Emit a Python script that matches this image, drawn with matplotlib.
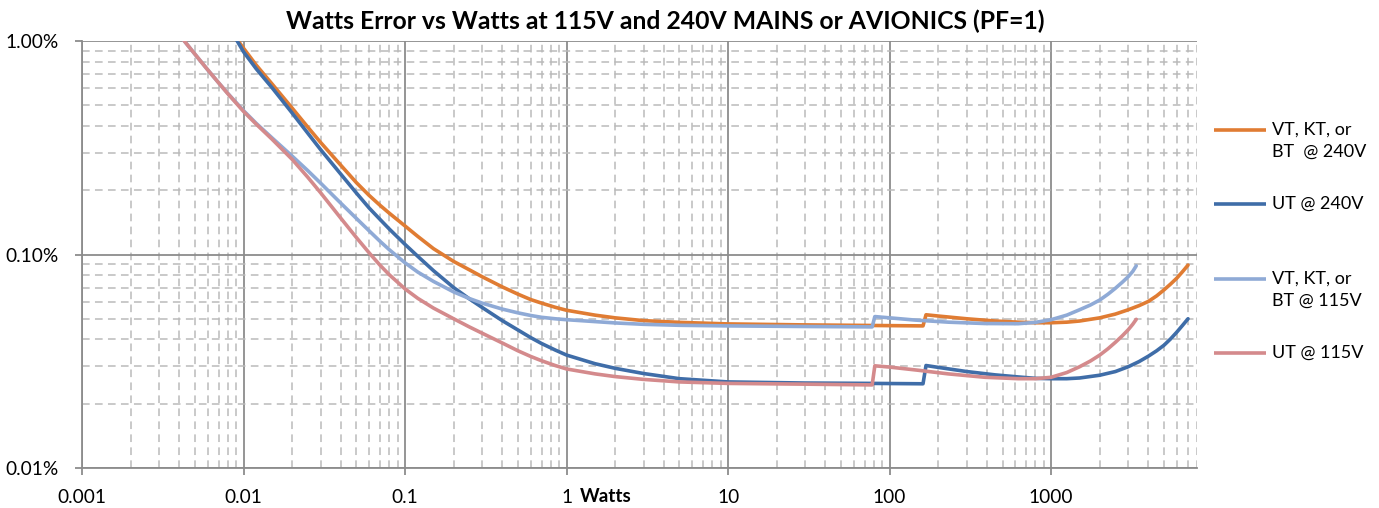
import matplotlib
matplotlib.use("Agg")
import matplotlib.pyplot as plt
from matplotlib.lines import Line2D
from matplotlib.ticker import LogLocator, FixedLocator, FuncFormatter, NullFormatter

# Watts error (%) vs load (W) for the four meter configurations
w_240 = [0.009, 0.01, 0.012, 0.015, 0.02, 0.025, 0.03, 0.04, 0.05, 0.06, 0.07, 0.08, 0.1,
         0.12, 0.15, 0.2, 0.25, 0.3, 0.4, 0.5, 0.6, 0.7, 0.85, 1, 1.5, 2, 3, 5, 10, 30, 80,
         161, 168, 200, 300, 450, 625, 800, 1000, 1250, 1500, 2000, 2500, 3000, 3500, 4000,
         4500, 5000, 5500, 6000, 6500, 7040]
err_vt240 = [1.03, 0.925, 0.77, 0.63, 0.485, 0.395, 0.335, 0.262, 0.217, 0.189, 0.170, 0.156,
             0.136, 0.1215, 0.1065, 0.0928, 0.0848, 0.0787, 0.0705, 0.0652, 0.0615, 0.0592,
             0.0566, 0.0548, 0.0520, 0.0505, 0.0490, 0.0481, 0.0473, 0.0468, 0.0465, 0.0463,
             0.0522, 0.0515, 0.0500, 0.0488, 0.0482, 0.0479, 0.0479, 0.0482, 0.0488, 0.0505,
             0.0526, 0.0551, 0.0576, 0.0603, 0.0640, 0.0683, 0.0728, 0.0775, 0.0830, 0.0892]
err_ut240 = [1.02, 0.89, 0.74, 0.605, 0.46, 0.37, 0.31, 0.238, 0.194, 0.165, 0.146, 0.1315,
             0.1115, 0.0980, 0.0840, 0.0700, 0.0620, 0.0565, 0.0490, 0.0443, 0.0408, 0.0383,
             0.0357, 0.0338, 0.0308, 0.0293, 0.0277, 0.0262, 0.0253, 0.0250, 0.0249, 0.0248,
             0.0302, 0.0296, 0.0283, 0.0273, 0.0267, 0.0263, 0.0262, 0.0262, 0.0264, 0.0272,
             0.0283, 0.0298, 0.0315, 0.0334, 0.0354, 0.0376, 0.0403, 0.0433, 0.0465, 0.0500]

w_vt115 = [0.004, 0.005, 0.006, 0.007, 0.008, 0.01, 0.012, 0.015, 0.02, 0.025, 0.03, 0.04,
           0.05, 0.06, 0.07, 0.08, 0.1, 0.12, 0.15, 0.2, 0.25, 0.3, 0.4, 0.5, 0.6, 0.7, 0.85,
           1, 1.5, 2, 3, 5, 10, 30, 78, 81, 100, 144, 231, 389, 625, 800, 1000, 1250, 1500,
           1750, 2000, 2250, 2500, 2750, 3000, 3200, 3365]
err_vt115 = [1.07, 0.868, 0.733, 0.638, 0.568, 0.472, 0.411, 0.352, 0.289, 0.247, 0.216,
             0.174, 0.1475, 0.129, 0.1153, 0.1052, 0.0914, 0.0827, 0.0748, 0.0668, 0.0622,
             0.0592, 0.0555, 0.0533, 0.0518, 0.0508, 0.0500, 0.0495, 0.0485, 0.0478, 0.0471,
             0.0466, 0.0463, 0.0460, 0.0458, 0.0512, 0.0505, 0.0493, 0.0482, 0.0475, 0.0474,
             0.0481, 0.0495, 0.0520, 0.0551, 0.0580, 0.0612, 0.0652, 0.0695, 0.0740, 0.0787,
             0.0833, 0.0885]

w_ut115 = [0.004, 0.005, 0.006, 0.007, 0.008, 0.01, 0.012, 0.015, 0.02, 0.025, 0.03, 0.04,
           0.05, 0.06, 0.07, 0.08, 0.1, 0.12, 0.15, 0.2, 0.25, 0.3, 0.4, 0.5, 0.6, 0.7, 0.85,
           1, 1.5, 2, 3, 5, 10, 30, 78, 81, 100, 150, 230, 390, 625, 800, 1000, 1250, 1500,
           1750, 2000, 2250, 2500, 2750, 3000, 3200, 3365]
err_ut115 = [1.07, 0.868, 0.733, 0.638, 0.566, 0.468, 0.4075, 0.347, 0.279, 0.230, 0.1947,
             0.148, 0.1200, 0.1017, 0.0891, 0.0803, 0.0690, 0.0623, 0.0561, 0.0500, 0.0458,
             0.0428, 0.0385, 0.0354, 0.0333, 0.0318, 0.0302, 0.0291, 0.0276, 0.0268, 0.0260,
             0.0253, 0.0249, 0.0247, 0.0245, 0.0301, 0.0297, 0.0287, 0.0276, 0.0266, 0.0262,
             0.0262, 0.0266, 0.0280, 0.0298, 0.0317, 0.0338, 0.0362, 0.0388, 0.0415, 0.0444,
             0.0471, 0.0497]

series_labels = ["VT, KT, or\nBT  @ 240V", "UT @ 240V", "VT, KT, or\nBT @ 115V", "UT @ 115V"]
series_colors = ["#E07C33", "#3F6DA8", "#8FAAD6", "#D48A8C"]

x_ticks = [0.001, 0.01, 0.1, 1, 10, 100, 1000]
x_tick_labels = ["0.001", "0.01", "0.1", "1", "10", "100", "1000"]
y_ticks = [0.01, 0.1, 1.0]

W, H = 1379, 508
plt.rcParams["font.family"] = ["Lato", "DejaVu Sans"]
fig = plt.figure(figsize=(W / 100, H / 100), dpi=100)
ax = fig.add_axes([82 / W, (H - 468) / H, (1197 - 82) / W, (468 - 41) / H])

# later series sit on top of earlier ones
series = [(w_240, err_vt240), (w_240, err_ut240), (w_vt115, err_vt115), (w_ut115, err_ut115)]
for i, (xs, ys) in enumerate(series):
    ax.plot(xs, ys, color=series_colors[i], lw=2.6, solid_capstyle="round",
            solid_joinstyle="round", zorder=3 + i)

ax.set_xscale("log")
ax.set_yscale("log")
ax.set_xlim(0.001, 8000)
ax.set_ylim(0.01, 1.0)

ax.xaxis.set_major_locator(FixedLocator(x_ticks))
ax.xaxis.set_major_formatter(FuncFormatter(
    lambda v, p: x_tick_labels[x_ticks.index(v)] if v in x_ticks else ""))
ax.xaxis.set_minor_locator(LogLocator(base=10, subs=range(2, 10), numticks=20))
ax.xaxis.set_minor_formatter(NullFormatter())
ax.yaxis.set_major_locator(FixedLocator(y_ticks))
ax.yaxis.set_major_formatter(FuncFormatter(lambda v, p: f"{v:.2f}%"))
ax.yaxis.set_minor_locator(LogLocator(base=10, subs=range(2, 10), numticks=20))
ax.yaxis.set_minor_formatter(NullFormatter())

grid_major = "#8C8C8C"
grid_minor = "#BABABA"
ax.grid(which="major", color=grid_major, lw=1.3, zorder=1)
ax.grid(which="minor", color=grid_minor, lw=1.1, ls=(0, (5, 3.5)), zorder=1)
ax.set_axisbelow(True)

for s in ["top", "right"]:
    ax.spines[s].set_visible(False)
for s in ["left", "bottom"]:
    ax.spines[s].set_color(grid_major)
    ax.spines[s].set_linewidth(1.3)

ax.tick_params(which="major", length=5, width=1.3, color=grid_major, labelsize=13.8,
               labelcolor="#000000")
ax.tick_params(axis="x", which="major", pad=10)
ax.tick_params(axis="y", which="major", pad=12)
ax.tick_params(which="minor", length=0)

fig.text(580 / W, 1 - 497 / H, "Watts", fontsize=13.5, fontweight="bold", ha="left",
         va="center")
fig.text(665 / W, 1 - 21 / H, "Watts Error vs Watts at 115V and 240V MAINS or AVIONICS (PF=1)",
         fontsize=17.8, fontweight="bold", ha="center", va="center")

# Legend entries on the right of the plot
legend_rows = [130, 204, 279, 353]
for lab, col, yp in zip(series_labels, series_colors, legend_rows):
    yf = 1 - yp / H
    fig.add_artist(Line2D([1214 / W, 1266 / W], [yf, yf], color=col, lw=2.6,
                          solid_capstyle="butt", transform=fig.transFigure))
    fig.text(1272 / W, yf + 8.5 / H, lab, fontsize=13, ha="left", va="top", linespacing=1.45)

fig.savefig("out.png", dpi=100)
